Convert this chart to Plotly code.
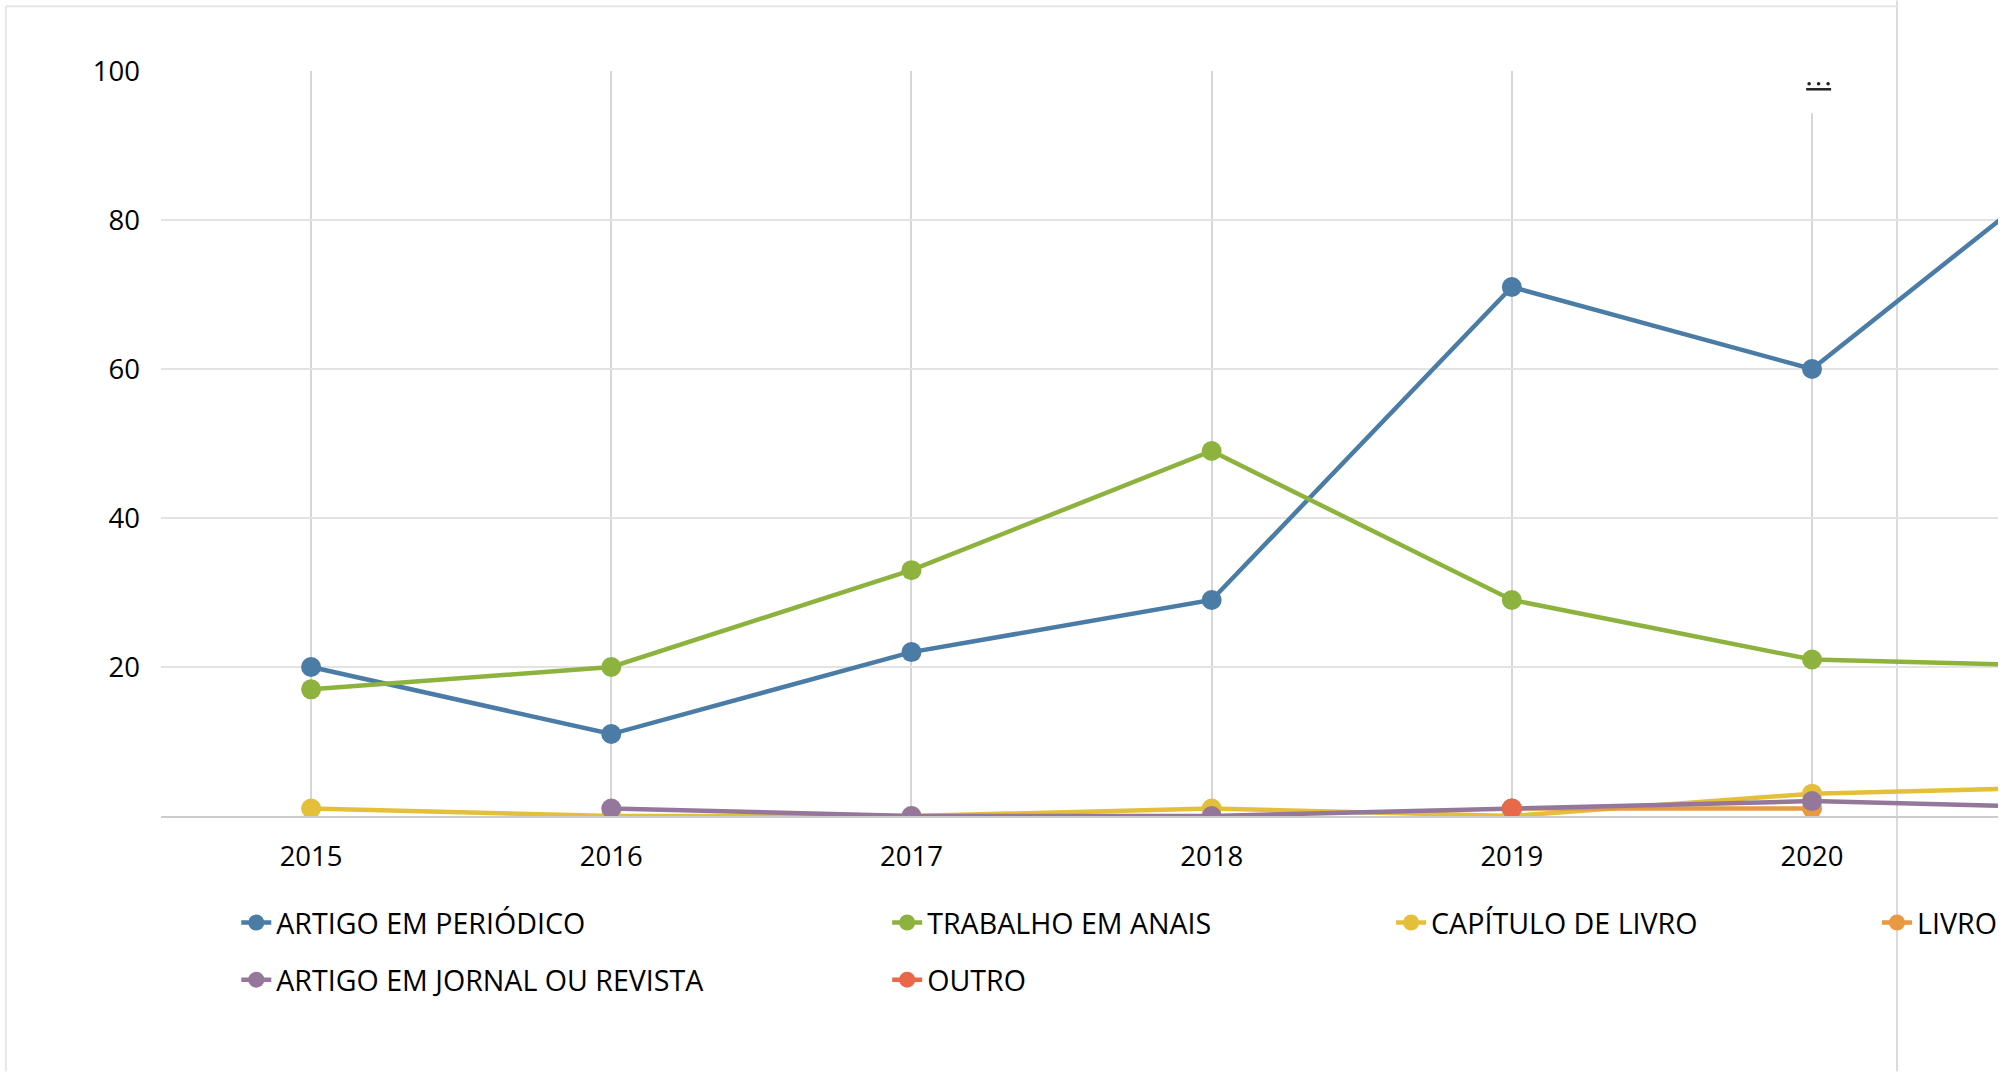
import plotly.graph_objects as go

# publication counts per year (2021 is partly cut off at the right edge)
years = ["2015", "2016", "2017", "2018", "2019", "2020", "2021"]
artigo_periodico = [20, 11, 22, 29, 71, 60, 92]
trabalho_anais = [17, 20, 33, 49, 29, 21, 20]
capitulo_livro = [1, 0, 0, 1, 0, 3, 4]
livro = [None, None, None, None, 1, 1, None]
artigo_jornal = [None, 1, 0, 0, 1, 2, 1]
outro = [None, None, None, None, 1, None, None]

series_names = ["ARTIGO EM PERIÓDICO", "TRABALHO EM ANAIS", "CAPÍTULO DE LIVRO",
                "LIVRO", "ARTIGO EM JORNAL OU REVISTA", "OUTRO"]
series_values = [artigo_periodico, trabalho_anais, capitulo_livro,
                 livro, artigo_jornal, outro]
colors = ["#4a7ca6", "#8db33e", "#e4bf3a", "#e89a42", "#94779a", "#e8694a"]
legend_ids = ["legend", "legend2", "legend3", "legend4", "legend", "legend2"]

W, H = 2013, 1072
ML, MR, MT, MB = 160.7, 14, 70.7, 255.5
plot_w = W - ML - MR
plot_h = H - MT - MB
cat_px = 300.4


def px_x(px):
    return (px - ML) / plot_w


def px_y(py):
    return (H - MB - py) / plot_h


fig = go.Figure()
for i in range(len(series_names)):
    fig.add_trace(go.Scatter(
        x=years, y=series_values[i], name=series_names[i],
        mode="lines+markers",
        line=dict(color=colors[i], width=4.5),
        marker=dict(color=colors[i], size=20),
        legend=legend_ids[i], legendgroup=series_names[i],
    ))

font = dict(family="Open Sans", size=27.5, color="#000000", weight=500)
leg_font = dict(family="Open Sans", size=28.6, color="#000000", weight=500)
leg_common = dict(orientation="v", xanchor="left", yanchor="top", font=leg_font,
                  bgcolor="rgba(0,0,0,0)", tracegroupgap=17)
leg_y = px_y(898)

fig.update_layout(
    width=W, height=H,
    margin=dict(l=ML, r=MR, t=MT, b=MB, pad=0),
    paper_bgcolor="white", plot_bgcolor="rgba(0,0,0,0)",
    font=font,
    showlegend=True,
    legend=dict(x=px_x(236), y=leg_y, **leg_common),
    legend2=dict(x=px_x(887), y=leg_y, **leg_common),
    legend3=dict(x=px_x(1391), y=leg_y, **leg_common),
    legend4=dict(x=px_x(1877), y=leg_y, **leg_common),
    xaxis=dict(
        type="category", range=[-0.5, -0.5 + plot_w / cat_px],
        showgrid=True, gridcolor="#d6d6d6", gridwidth=1.5,
        showline=True, linecolor="#cccccc", linewidth=2,
        ticks="", ticklabelstandoff=15, tickfont=font, zeroline=False,
    ),
    yaxis=dict(
        range=[0, 100], tickvals=[20, 40, 60, 80, 100],
        showgrid=True, gridcolor="#e3e3e3", gridwidth=2,
        zeroline=False, showline=False,
        ticks="", ticklabelstandoff=20, tickfont=font,
    ),
    hovermode=False,
)

# card border around the chart
fig.add_shape(type="line", xref="paper", yref="paper", layer="below",
              x0=px_x(1898), x1=px_x(1898), y0=px_y(0), y1=px_y(H),
              line=dict(color="#dadada", width=2))
fig.add_shape(type="line", xref="paper", yref="paper", layer="below",
              x0=px_x(5.5), x1=px_x(1898), y0=px_y(6), y1=px_y(6),
              line=dict(color="#e6e6e6", width=2))
fig.add_shape(type="line", xref="paper", yref="paper", layer="below",
              x0=px_x(5.5), x1=px_x(5.5), y0=px_y(6), y1=px_y(H),
              line=dict(color="#e6e6e6", width=2))

# "more" menu button: white patch, three dots and an underline
fig.add_shape(type="rect", xref="paper", yref="paper", layer="above",
              x0=px_x(1789), x1=px_x(1849), y0=px_y(113), y1=px_y(66),
              fillcolor="white", line=dict(width=0))
fig.add_shape(type="line", xref="paper", yref="paper", layer="above",
              x0=px_x(1807), x1=px_x(1832), y0=px_y(89), y1=px_y(89),
              line=dict(color="#222222", width=2.5))
for dot_px in [1810, 1819.5, 1829]:
    fig.add_shape(type="circle", xref="paper", yref="paper", layer="above",
                  x0=px_x(dot_px - 1.8), x1=px_x(dot_px + 1.8),
                  y0=px_y(85.3), y1=px_y(81.7),
                  fillcolor="#222222", line=dict(width=0))

fig.write_html("out.html", config={"displayModeBar": False},
               post_script="document.body.style.margin='0';document.body.style.overflow='hidden';")
